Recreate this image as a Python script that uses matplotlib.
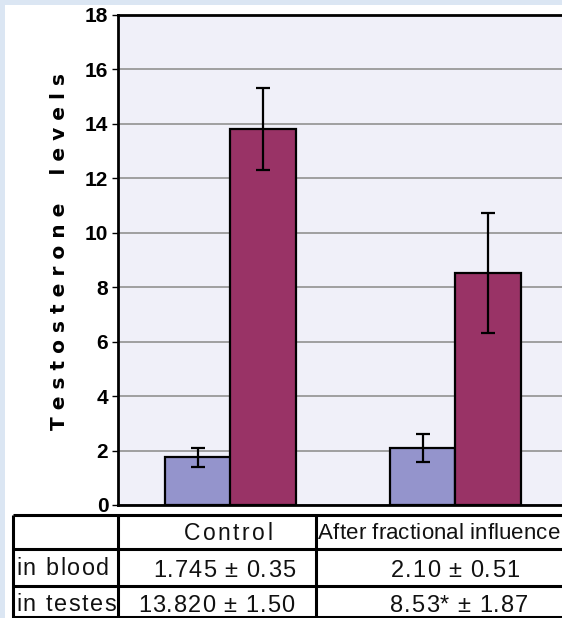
import matplotlib
matplotlib.use('Agg')
import matplotlib.pyplot as plt
from matplotlib.patches import Rectangle
from matplotlib.font_manager import FontProperties

groups = ['Control', 'After fractional influence']
blood = [1.745, 2.10]
blood_err = [0.35, 0.51]
testes = [13.82, 8.53]
testes_err = [1.50, 2.20]
y_ticks = [0, 2, 4, 6, 8, 10, 12, 14, 16, 18]
row_labels = ['in blood', 'in testes']
blood_text = ['1.745 \u00b1 0.35', '2.10 \u00b1 0.51']
testes_text = ['13.820 \u00b1 1.50', '8.53* \u00b1 1.87']

W, H = 562, 618
fig = plt.figure(figsize=(W / 100, H / 100), dpi=100)
fig.patch.set_facecolor('#dbe6f3')

# background layer in pixel coordinates (panel + table)
bg = fig.add_axes([0, 0, 1, 1], zorder=0)
bg.set_xlim(0, W)
bg.set_ylim(H, 0)
bg.axis('off')
bg.add_patch(Rectangle((5, 5), W, H, facecolor='white', edgecolor='none'))

renderer = fig.canvas.get_renderer()


def advance(ch, prop):
    w = lambda s: renderer.get_text_width_height_descent(s, prop, ismath=False)[0]
    return w('I' + ch + 'I') - w('II')


def spaced_text(x, y, s, spacing, ha='center', size=17, family='Liberation Sans'):
    # no letter spacing in matplotlib: place the characters one by one
    prop = FontProperties(family=family, size=size)
    widths = [advance(ch, prop) for ch in s]
    total = sum(widths) + spacing * (len(s) - 1)
    cx = x - total / 2 if ha == 'center' else x
    for ch, w in zip(s, widths):
        if ch != ' ':
            bg.text(cx + w / 2, y, ch, ha='center', va='baseline',
                    fontproperties=prop, color='#111111')
        cx += w + spacing


lw = 2.2
for y in [515, 549, 586, 617]:
    bg.plot([13, W], [y, y], color='black', lw=lw, solid_capstyle='butt')
for x in [13, 118, 316]:
    bg.plot([x, x], [515, 618], color='black', lw=lw, solid_capstyle='butt')

spaced_text(228, 540, groups[0], 2.4, size=16.5)
spaced_text(318, 539, groups[1], 0.1, ha='left', size=16)
for i, lab in enumerate(row_labels):
    spaced_text(16, 575 + i * 36, lab, 1.6, ha='left', size=16.8)
for i, txt in enumerate(blood_text):
    spaced_text([224, 455][i], 577, txt, 1.0)
for i, txt in enumerate(testes_text):
    spaced_text([216, 459][i], 612, txt, 1.0)

# chart
ax = fig.add_axes([118 / W, (H - 505) / H, 450 / W, 490 / H], zorder=1)
ax.set_facecolor('#f0f0f9')
x = list(range(len(groups)))
bw = 0.29
ax.bar([i - bw / 2 for i in x], blood, bw, color='#9494cc', edgecolor='black',
       linewidth=1.6, zorder=3)
ax.bar([i + bw / 2 for i in x], testes, bw, color='#993366', edgecolor='black',
       linewidth=1.6, zorder=3)
ax.errorbar([i - bw / 2 for i in x], blood, yerr=blood_err, fmt='none',
            ecolor='black', elinewidth=1.6, capsize=5, capthick=1.6, zorder=4)
ax.errorbar([i + bw / 2 for i in x], testes, yerr=testes_err, fmt='none',
            ecolor='black', elinewidth=1.6, capsize=5, capthick=1.6, zorder=4)

ax.set_xlim(-0.5, 1.5)
ax.set_ylim(0, 18)
ax.set_yticks(y_ticks)
ax.set_yticklabels([str(v) for v in y_ticks], fontsize=15, fontweight='bold',
                   family='Liberation Sans')
ax.set_xticks([])
ax.yaxis.grid(True, color='#999999', linewidth=1.3, zorder=1)
ax.tick_params(axis='y', length=4, width=1, pad=3)
for s in ['top', 'left', 'bottom']:
    ax.spines[s].set_linewidth(2)
    ax.spines[s].set_color('black')
ax.spines['right'].set_visible(False)

fig.text(60 / W, 1 - 252 / H, 'T e s t o s t e r o n e    l e v e l s',
         rotation=90, ha='center', va='center', fontsize=14.5, fontweight='bold',
         family='DejaVu Sans')

fig.savefig('out.png', dpi=100)
